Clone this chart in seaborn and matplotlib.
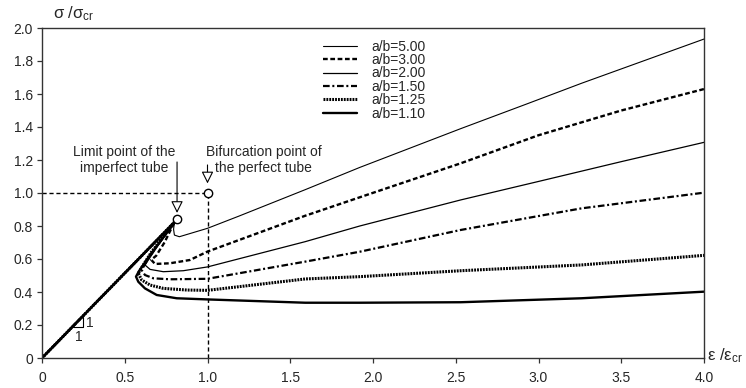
import matplotlib
matplotlib.use("Agg")
import matplotlib.pyplot as plt
import seaborn as sns

# curve data (x = eps/eps_cr, y = sigma/sigma_cr)
x_500 = [0, 0.816, 0.800, 0.795, 0.800, 0.83, 1.0, 1.19, 1.59, 1.92, 2.53, 2.93, 3.26, 4.0]
y_500 = [0, 0.842, 0.820, 0.780, 0.745, 0.735, 0.786, 0.86, 1.02, 1.155, 1.39, 1.54, 1.665, 1.933]

x_300 = [0, 0.80, 0.74, 0.69, 0.66, 0.683, 0.773, 0.894, 1.0, 1.59, 1.92, 2.53, 3.0, 3.5, 4.0]
y_300 = [0, 0.823, 0.70, 0.62, 0.595, 0.570, 0.574, 0.594, 0.645, 0.862, 0.974, 1.18, 1.35, 1.50, 1.63]

x_200 = [0, 0.80, 0.70, 0.64, 0.622, 0.653, 0.733, 0.854, 1.0, 1.59, 1.92, 2.53, 3.0, 3.5, 4.0]
y_200 = [0, 0.823, 0.68, 0.59, 0.564, 0.537, 0.523, 0.529, 0.552, 0.705, 0.80, 0.958, 1.07, 1.19, 1.307]

x_150 = [0, 0.80, 0.68, 0.62, 0.602, 0.622, 0.673, 0.773, 1.0, 1.59, 1.92, 2.53, 3.26, 4.0]
y_150 = [0, 0.823, 0.66, 0.565, 0.533, 0.503, 0.483, 0.477, 0.480, 0.584, 0.644, 0.776, 0.907, 1.002]

x_125 = [0, 0.80, 0.66, 0.60, 0.582, 0.602, 0.653, 0.733, 0.874, 1.0, 1.59, 1.92, 2.53, 3.26, 4.0]
y_125 = [0, 0.823, 0.64, 0.545, 0.513, 0.473, 0.442, 0.422, 0.412, 0.410, 0.479, 0.493, 0.529, 0.564, 0.622]

x_110 = [0, 0.81, 0.65, 0.585, 0.568, 0.582, 0.622, 0.693, 0.814, 1.0, 1.59, 1.92, 2.53, 3.26, 4.0]
y_110 = [0, 0.833, 0.62, 0.525, 0.493, 0.462, 0.422, 0.382, 0.362, 0.355, 0.335, 0.335, 0.338, 0.362, 0.402]

labels = ["a/b=5.00", "a/b=3.00", "a/b=2.00", "a/b=1.50", "a/b=1.25", "a/b=1.10"]

limit_pt = (0.816, 0.842)
bif_pt = (1.0, 1.0)

x_ticks = [0, 0.5, 1.0, 1.5, 2.0, 2.5, 3.0, 3.5, 4.0]
x_ticklabels = ["0", "0.5", "1.0", "1.5", "2.0", "2.5", "3.0", "3.5", "4.0"]
y_ticks = [0, 0.2, 0.4, 0.6, 0.8, 1.0, 1.2, 1.4, 1.6, 1.8, 2.0]
y_ticklabels = ["0", "0.2", "0.4", "0.6", "0.8", "1.0", "1.2", "1.4", "1.6", "1.8", "2.0"]

sns.set_style("ticks")
plt.rcParams['font.family'] = ['Liberation Sans', 'DejaVu Sans']
plt.rcParams['mathtext.default'] = 'regular'

fig = plt.figure(figsize=(7.46, 3.88), dpi=100)
ax = fig.add_axes([42 / 746, 30 / 388, 662 / 746, 330 / 388])

# line styles for each a/b
styles = [
    dict(lw=0.8, ls='-'),
    dict(lw=1.7, ls=(0, (2.0, 1.1))),
    dict(lw=0.9, ls='-'),
    dict(lw=1.6, ls=(0, (3.0, 1.2, 0.9, 1.2))),
    dict(lw=2.2, ls=(0, (0.6, 0.35))),
    dict(lw=1.7, ls='-'),
]
curves = [(x_500, y_500), (x_300, y_300), (x_200, y_200),
          (x_150, y_150), (x_125, y_125), (x_110, y_110)]

for (xs, ys), lab, st in zip(curves, labels, styles):
    sns.lineplot(x=xs, y=ys, sort=False, estimator=None, color='black',
                 linewidth=st['lw'], linestyle=st['ls'], label=lab, ax=ax)

# dashed lines to the bifurcation point
ax.plot([0, bif_pt[0]], [bif_pt[1], bif_pt[1]], color='black', lw=1.0, ls=(0, (3, 2)))
ax.plot([bif_pt[0], bif_pt[0]], [0, bif_pt[1]], color='black', lw=1.0, ls=(0, (3, 2)))

# hollow circle markers
ax.plot(*limit_pt, marker='o', ms=6, mfc='white', mec='black', mew=1.0, zorder=5)
ax.plot(*bif_pt, marker='o', ms=6, mfc='white', mec='black', mew=1.0, zorder=5)

# arrows with open triangle heads
arrow_kw = dict(arrowstyle='-|>,head_length=0.6,head_width=0.3', fc='white', ec='black',
                lw=0.8, mutation_scale=12, shrinkA=0, shrinkB=0)
ax.annotate("", xy=(limit_pt[0], 0.879), xytext=(limit_pt[0], 1.188), arrowprops=arrow_kw)
ax.annotate("", xy=(bif_pt[0], 1.058), xytext=(bif_pt[0], 1.17), arrowprops=arrow_kw)

ax.text(0.495, 1.2, "Limit point of the\nimperfect tube", ha='center', va='center',
        fontsize=10, linespacing=1.2)
ax.text(0.99, 1.2, "Bifurcation point of\nthe perfect tube", ha='left', va='center',
        multialignment='center', fontsize=10, linespacing=1.2)

# slope triangle 1:1
ax.plot([0.19, 0.25, 0.25], [0.19, 0.19, 0.25], color='black', lw=0.8)
ax.text(0.268, 0.215, "1", fontsize=10, ha='left', va='center')
ax.text(0.22, 0.125, "1", fontsize=10, ha='center', va='center')

ax.set_xlim(0, 4.0)
ax.set_ylim(0, 2.0)
ax.set_xticks(x_ticks)
ax.set_xticklabels(x_ticklabels)
ax.set_yticks(y_ticks)
ax.set_yticklabels(y_ticklabels)
ax.tick_params(direction='out', length=3.5, width=0.9, labelsize=10, color='#333333', pad=3)
ax.tick_params(axis='x', pad=6)
for sp in ax.spines.values():
    sp.set_visible(True)
    sp.set_color('#333333')
    sp.set_linewidth(1.0)

ax.set_xlabel("")
ax.set_ylabel("")
fig.text(53 / 746, 1 - 14 / 388, "σ /σ$_{cr}$", fontsize=12, ha='left', va='center')
fig.text(707 / 746, 1 - 356 / 388, "ε /ε$_{cr}$", fontsize=12, ha='left', va='center')

leg = ax.legend(loc='upper left', bbox_to_anchor=(0.405, 1.003), frameon=False,
                fontsize=10, handlelength=2.5, handletextpad=1.0, labelspacing=-0.04)

plt.savefig("out.png", dpi=100)
